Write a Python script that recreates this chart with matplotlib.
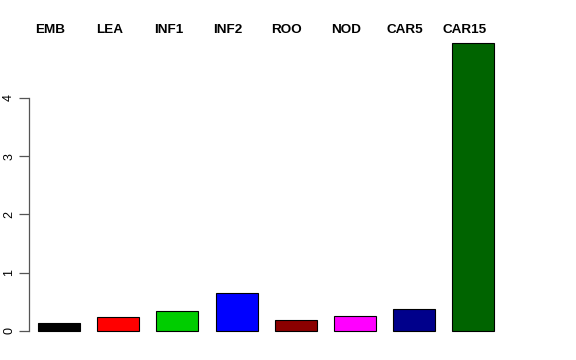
import numpy as np
import matplotlib
matplotlib.use("Agg")
import matplotlib.pyplot as plt
import matplotlib.transforms as mtransforms

# sample groups and their values
groups = ["EMB", "LEA", "INF1", "INF2", "ROO", "NOD", "CAR5", "CAR15"]
values = [0.13, 0.245, 0.35, 0.66, 0.18, 0.25, 0.38, 4.94]
colors = ["#000000", "#FF0000", "#00CD00", "#0000FF",
          "#8B0000", "#FF00FF", "#00008B", "#006400"]
yticks = [0, 1, 2, 3, 4]

plt.rcParams['font.family'] = ['Liberation Sans', 'DejaVu Sans']

W, H = 576, 360
fig = plt.figure(figsize=(W / 100, H / 100), dpi=100)
# plot region in pixels: left 29, right 503, top 31.6, bottom 342.5
ax = fig.add_axes([29 / W, (H - 342.5) / H, (503 - 29) / W, (342.5 - 31.6) / H])

x = np.arange(len(groups))
ax.bar(x, values, width=0.71, color=colors, edgecolor="black", linewidth=0.8)

ax.set_xlim(-0.507, 7.5)
ax.set_ylim(-0.198, 5.14)

# R-style axis: only left, spanning the tick range
for s in ["top", "right", "bottom"]:
    ax.spines[s].set_visible(False)
ax.spines["left"].set_bounds(0, 4)
ax.spines["left"].set_color("#555555")
ax.spines["left"].set_linewidth(0.9)
ax.set_xticks([])
ax.set_yticks(yticks)
ax.set_yticklabels([str(t) for t in yticks], rotation=90, va="center", fontsize=9)
ax.tick_params(axis="y", length=7, width=0.9, color="#555555", pad=3)

# group labels across the top, slightly left of each bar
trans = mtransforms.blended_transform_factory(ax.transData, fig.transFigure)
for i, g in enumerate(groups):
    ax.text(i - 0.15, (H - 30) / H, g, transform=trans,
            ha="center", va="center", fontsize=9.7, fontweight="bold")

fig.savefig("out.png", dpi=100)
